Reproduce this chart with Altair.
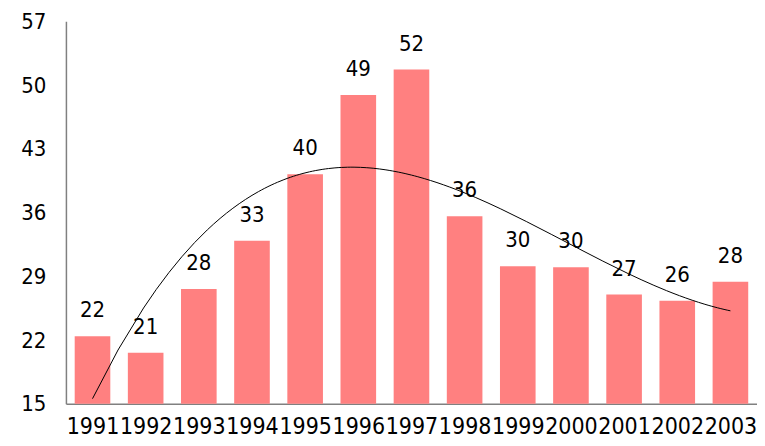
import altair as alt
import pandas as pd

years = [1991, 1992, 1993, 1994, 1995, 1996, 1997, 1998, 1999, 2000, 2001, 2002, 2003]
values = [22.4, 20.6, 27.6, 32.9, 40.2, 48.9, 51.7, 35.6, 30.1, 30.0, 27.0, 26.3, 28.4]
y_ticks = [15, 22, 29, 36, 43, 50, 57]

df = pd.DataFrame({"year": years, "value": values})
df["idx"] = df["year"] - years[0]

FONT = "DejaVu Sans Condensed"
xscale = alt.Scale(domain=[years[0] - 0.5, years[-1] + 0.5], nice=False, zero=False)
yscale = alt.Scale(domain=[y_ticks[0], y_ticks[-1]], nice=False, zero=False)

base = alt.Chart(df)

bars = base.mark_bar(color="#FF8080").transform_calculate(
    x0="datum.year - 0.335", x1="datum.year + 0.335"
).encode(
    x=alt.X("x0:Q", scale=xscale,
            axis=alt.Axis(values=years, format="d", title=None, grid=False, ticks=False,
                          tickSize=0, labelFontSize=23, labelFont=FONT, labelColor="black",
                          labelPadding=12, labelOverlap=False, domainColor="#808080",
                          domainWidth=1.5)),
    x2="x1:Q",
    y=alt.Y("value:Q", scale=yscale,
            axis=alt.Axis(values=y_ticks, title=None, grid=False, ticks=False, tickSize=0,
                          labelFontSize=22, labelFont=FONT, labelColor="black",
                          labelPadding=20, domainColor="#808080", domainWidth=1.5)),
    y2=alt.datum(y_ticks[0]),
)

labels = base.mark_text(font=FONT, fontSize=22, color="black", dy=-26).encode(
    x=alt.X("year:Q", scale=xscale),
    y=alt.Y("value:Q", scale=yscale),
    text=alt.Text("value:Q", format=".0f"),
)

trend = base.transform_regression("idx", "value", method="poly", order=3).transform_calculate(
    yr="datum.idx + " + str(years[0])
).mark_line(color="black", strokeWidth=1).encode(
    x=alt.X("yr:Q", scale=xscale),
    y=alt.Y("value:Q", scale=yscale),
)

chart = alt.layer(bars, trend, labels).properties(
    width=692, height=383,
    padding={"left": 12, "top": 2, "right": 0, "bottom": 0},
).configure_view(stroke=None)

chart.save("out.html", embed_options={"renderer": "svg", "actions": False})
